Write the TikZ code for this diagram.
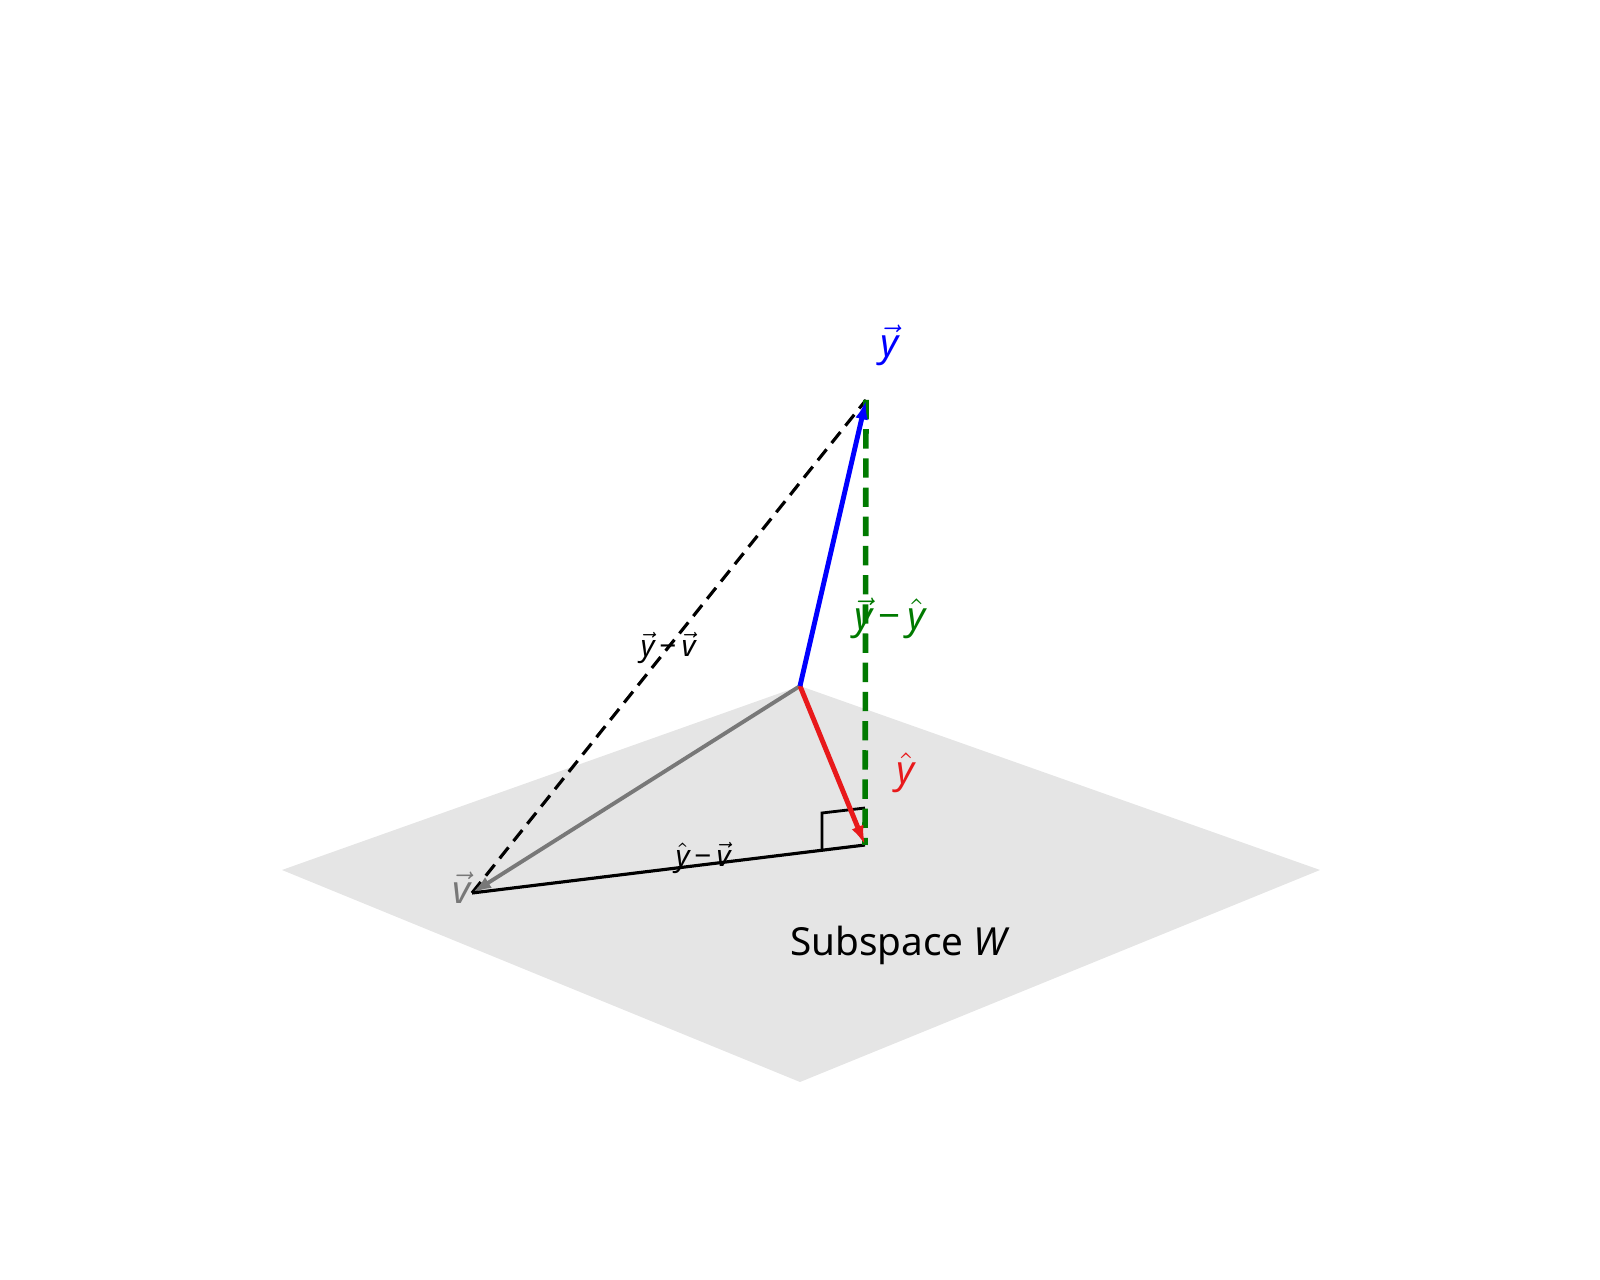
\documentclass[tikz,border=0pt]{standalone}
\usepackage{fontspec}
\setmainfont{Noto Sans}
\usetikzlibrary{arrows.meta}
\newcommand{\vy}{\ensuremath{\vec{\mbox{\itshape y}}}}
\newcommand{\vv}{\ensuremath{\vec{\mbox{\itshape v}}}}
\newcommand{\hy}{\ensuremath{\hat{\mbox{\itshape y}}}}
\definecolor{planegray}{gray}{0.9}
\definecolor{vecgray}{gray}{0.47}
\definecolor{mplgreen}{HTML}{007A00}
\definecolor{mplred}{HTML}{E8191B}
\begin{document}
\begin{tikzpicture}[x=0.01cm, y=-0.01cm,
    vec/.style={line width=1.4pt, -{Latex[length=5.5pt,width=3.6pt]}},
    lbl/.style={font=\fontsize{11}{13}\selectfont, inner sep=0pt},
    small/.style={font=\fontsize{8.5}{10}\selectfont, inner sep=0pt}]
        \useasboundingbox (0,0) rectangle (1600,1280);
        \fill[planegray] (282,870) -- (800,686) -- (1320,870) -- (800,1082) -- cycle;
        \coordinate (o) at (800,686);
        \coordinate (y) at (866,400);
        \coordinate (yhat) at (865,845);
        \coordinate (v) at (472,893);
        \coordinate (ra1) at (865,808);
        \coordinate (ra2) at (822,813);
        \coordinate (ra3) at (822,850);
        \draw[line width=0.9pt, dash pattern=on 4pt off 2.3pt] (v) -- (y);
        \draw[vec, line width=1.1pt, vecgray] (o) -- (v);
        \draw[line width=0.9pt] (v) -- (yhat);
        \draw[line width=0.8pt] (ra1) -- (ra2) -- (ra3);
        \draw[line width=1.6pt, mplgreen, dash pattern=on 5.5pt off 2.8pt] (y) -- (yhat);
        \draw[vec, mplred] (o) -- (yhat);
        \draw[vec, blue] (o) -- (y);
        \node[lbl, blue] (ylab) at (890,345) {\vy};
        \node[lbl, mplred] (yhatlab) at (906,773) {\hy};
        \node[lbl, vecgray] (vlab) at (462,888) {\vv};
        \node[lbl, mplgreen] (diff1) at (890,618) {\vy\,−\,\hy};
        \node[small] (diff2) at (668,648) {\vy\,−\,\vv};
        \node[small] (diff3) at (703,858) {\hy\,−\,\vv};
        \node[lbl] (w) at (900,945) {Subspace \textit{W}};
      \end{tikzpicture}
\end{document}
